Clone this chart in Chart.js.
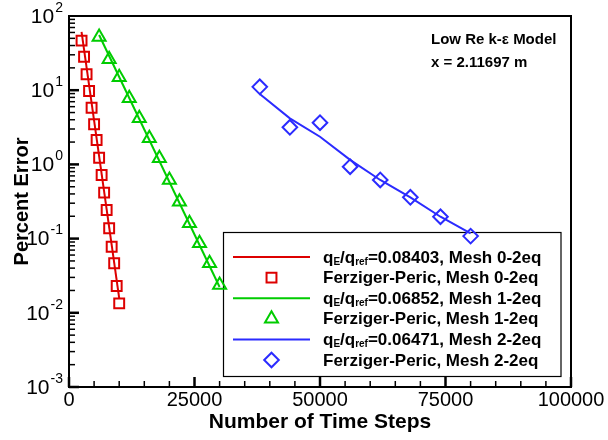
<!DOCTYPE html>
<html>
<head>
<meta charset="utf-8">
<script src="https://cdn.jsdelivr.net/npm/chart.js@4.4.1/dist/chart.umd.min.js"></script>
<style>
  html, body { margin: 0; padding: 0; background: #fff; }
  #wrap { width: 608px; height: 440px; }
</style>
</head>
<body>
<div id="wrap"><canvas id="errChart" width="608" height="440"></canvas></div>
<script>
// Ferziger-Peric estimates (markers) and fitted decay (lines)
const redSteps = [2500, 3000, 3500, 4000, 4500, 5000, 5500, 6000, 6500, 7000, 7500, 8000, 8500, 9000, 9500, 10000];
const redError = [46.5, 28.3, 16.4, 9.75, 5.81, 3.47, 2.13, 1.23, 0.72, 0.416, 0.243, 0.138, 0.0778, 0.0465, 0.023, 0.0134];
const redFitSteps = [2500, 10000];
const redFitError = [61, 0.0158];

const greenSteps = [6000, 8000, 10000, 12000, 14000, 16000, 18000, 20000, 22000, 24000, 26000, 28000, 30000];
const greenError = [52.1, 26.1, 14.9, 7.78, 4.18, 2.25, 1.21, 0.617, 0.314, 0.161, 0.0863, 0.0465, 0.0237];
const greenFitSteps = [6000, 30000];
const greenFitError = [55.5, 0.0223];

const blueSteps = [38000, 44000, 50000, 56000, 62000, 68000, 74000, 80000];
const blueError = [11.1, 3.16, 3.65, 0.931, 0.617, 0.36, 0.197, 0.108];
const blueFitSteps = [38000, 44000, 50000, 56000, 62000, 68000, 74000, 80000];
const blueFitError = [8.89, 4.18, 2.36, 1.15, 0.617, 0.36, 0.197, 0.118];

const fitRatios = ['0.08403', '0.06852', '0.06471'];
const meshNames = ['Mesh 0-2eq', 'Mesh 1-2eq', 'Mesh 2-2eq'];
const markerLabel = 'Ferziger-Peric';
const seriesColors = ['#dd0000', '#00cc00', '#2b2bff'];
const markerStyles = ['rect', 'triangle', 'rectRot'];
const markerSizes = [7, 7.5, 7.3];

const xTickValues = [0, 25000, 50000, 75000, 100000];
const yTickExponents = [-3, -2, -1, 0, 1, 2];
const noteLines = ['Low Re k-\u03b5 Model', 'x = 2.11697 m'];

const FONT = '"Liberation Sans", Arial, Helvetica, sans-serif';

function points(xs, ys) {
  return xs.map((x, i) => ({ x, y: ys[i] }));
}

function fitSet(xs, ys, color) {
  return {
    data: points(xs, ys),
    showLine: true,
    borderColor: color,
    borderWidth: 2,
    pointRadius: 0,
    fill: false
  };
}

function markerSet(xs, ys, color, style, radius) {
  return {
    data: points(xs, ys),
    showLine: false,
    borderColor: color,
    backgroundColor: 'rgba(0,0,0,0)',
    borderWidth: 2,
    pointStyle: style,
    pointRadius: radius
  };
}

function line(ctx, x1, y1, x2, y2) {
  ctx.beginPath();
  ctx.moveTo(x1, y1);
  ctx.lineTo(x2, y2);
  ctx.stroke();
}

function drawRatioLabel(ctx, x, y, ratio, mesh) {
  const big = 'bold 17px ' + FONT;
  const small = 'bold 10px ' + FONT;
  const parts = [
    ['q', big, 0], ['E', small, 4], ['/q', big, 0], ['ref', small, 4], ['=' + ratio + ', ' + mesh, big, 0]
  ];
  let cx = x;
  parts.forEach(([text, font, dy]) => {
    ctx.font = font;
    ctx.fillText(text, cx, y + dy);
    cx += ctx.measureText(text).width;
  });
}

const decorations = {
  id: 'decorations',
  beforeDatasetsDraw(chart) {
    const ctx = chart.ctx;
    // legend box
    const bx = 223.5, by = 232.5, bw = 337.5, bh = 144;
    ctx.save();
    ctx.fillStyle = '#fff';
    ctx.fillRect(bx, by, bw, bh);
    ctx.strokeStyle = '#000';
    ctx.lineWidth = 1.2;
    ctx.strokeRect(bx, by, bw, bh);
    ctx.textBaseline = 'middle';
    ctx.textAlign = 'left';
    const rowGap = 20.6;
    seriesColors.forEach((color, i) => {
      const yLine = 257 + i * 2 * rowGap;
      const yMark = yLine + rowGap;
      ctx.strokeStyle = color;
      ctx.lineWidth = 2;
      line(ctx, 233, yLine, 310, yLine);
      ctx.fillStyle = 'rgba(0,0,0,0)';
      Chart.helpers.drawPoint(ctx, {
        pointStyle: markerStyles[i],
        radius: markerSizes[i],
        rotation: 0,
        borderWidth: 2
      }, 271.5, yMark);
      ctx.fillStyle = '#000';
      drawRatioLabel(ctx, 323, yLine + 1, fitRatios[i], meshNames[i]);
      ctx.font = 'bold 17px ' + FONT;
      ctx.fillText(markerLabel + ', ' + meshNames[i], 323, yMark + 1);
    });
    ctx.restore();
  },
  afterDraw(chart) {
    const ctx = chart.ctx;
    const { left, right, top, bottom } = chart.chartArea;
    const xs = chart.scales.x;
    const ys = chart.scales.y;
    ctx.save();
    ctx.strokeStyle = '#000';
    // inside tick marks
    for (let v = 0; v <= 100000; v += 5000) {
      const px = xs.getPixelForValue(v);
      const major = v % 25000 === 0;
      ctx.lineWidth = major ? 2.5 : 1.5;
      line(ctx, px, bottom, px, bottom - (major ? 10 : 6));
    }
    for (let e = -3; e < 2; e++) {
      for (let m = 1; m < 10; m++) {
        const py = ys.getPixelForValue(m * Math.pow(10, e));
        const major = m === 1;
        ctx.lineWidth = major ? 2.5 : 1.5;
        line(ctx, left, py, left + (major ? 10 : 6), py);
      }
    }
    // frame
    ctx.lineWidth = 2;
    ctx.strokeRect(left, top, right - left, bottom - top);

    // tick labels
    ctx.fillStyle = '#000';
    ctx.textBaseline = 'middle';
    ctx.font = '20px ' + FONT;
    ctx.textAlign = 'center';
    xTickValues.forEach((v) => {
      ctx.fillText(String(v), xs.getPixelForValue(v), bottom + 13);
    });
    yTickExponents.forEach((e) => {
      const py = ys.getPixelForValue(Math.pow(10, e));
      const exp = String(e);
      ctx.font = '14px ' + FONT;
      const ew = ctx.measureText(exp).width;
      ctx.textAlign = 'right';
      ctx.fillText(exp, 63, py - 8);
      ctx.font = '21px ' + FONT;
      ctx.fillText('10', 63 - ew - 1, py + 1);
    });

    // axis titles
    ctx.font = 'bold 21px ' + FONT;
    ctx.textAlign = 'center';
    ctx.fillText('Number of Time Steps', (left + right) / 2, 422);
    ctx.save();
    ctx.translate(22, (top + bottom) / 2);
    ctx.rotate(-Math.PI / 2);
    ctx.font = 'bold 20px ' + FONT;
    ctx.fillText('Percent Error', 0, 0);
    ctx.restore();

    // note
    ctx.font = 'bold 15px ' + FONT;
    ctx.textAlign = 'left';
    noteLines.forEach((t, i) => ctx.fillText(t, 431, 40 + i * 23));
    ctx.restore();
  }
};

new Chart(document.getElementById('errChart'), {
  type: 'scatter',
  data: {
    datasets: [
      fitSet(redFitSteps, redFitError, seriesColors[0]),
      markerSet(redSteps, redError, seriesColors[0], markerStyles[0], markerSizes[0]),
      fitSet(greenFitSteps, greenFitError, seriesColors[1]),
      markerSet(greenSteps, greenError, seriesColors[1], markerStyles[1], markerSizes[1]),
      fitSet(blueFitSteps, blueFitError, seriesColors[2]),
      markerSet(blueSteps, blueError, seriesColors[2], markerStyles[2], markerSizes[2])
    ]
  },
  options: {
    responsive: false,
    devicePixelRatio: 1,
    animation: false,
    layout: { padding: { left: 69, right: 37, top: 16, bottom: 53 } },
    plugins: {
      legend: { display: false },
      tooltip: { enabled: false }
    },
    scales: {
      x: {
        type: 'linear',
        min: 0,
        max: 100000,
        grid: { display: false },
        border: { display: false },
        ticks: { display: false },
        afterFit(scale) { scale.height = 0; }
      },
      y: {
        type: 'logarithmic',
        min: 0.001,
        max: 100,
        grid: { display: false },
        border: { display: false },
        ticks: { display: false },
        afterFit(scale) { scale.width = 0; }
      }
    }
  },
  plugins: [decorations]
});
</script>
</body>
</html>
